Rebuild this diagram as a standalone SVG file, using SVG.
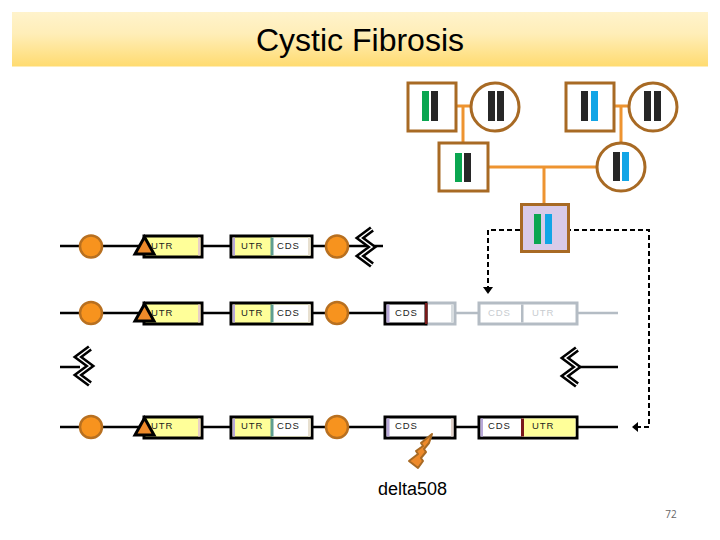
<svg xmlns="http://www.w3.org/2000/svg" width="720" height="540" viewBox="0 0 720 540">
<style>
.ln{stroke:#000;stroke-width:2.5;fill:none}
.gl{stroke:#b4bcc4;stroke-width:2.5;fill:none}
.box{stroke:#000;stroke-width:3}
.gbox{stroke:#b4bcc4;stroke-width:3;fill:#fff}
.y{fill:#ffff99}
.w{fill:#fff}
.t{font-family:"Liberation Sans",Arial,sans-serif;font-size:9.5px;letter-spacing:0.9px;fill:#222}
.tg{font-family:"Liberation Sans",Arial,sans-serif;font-size:9.5px;letter-spacing:0.9px;fill:#c8ccd0}
.dot{fill:#f7931e;stroke:#b87020;stroke-width:2.5}
.ped{fill:#fff;stroke:#a86a24;stroke-width:3}
.pl{stroke:#ee9430;stroke-width:3;fill:none}
.k{fill:#272727}.gr{fill:#0aa650}.bl{fill:#12a5e6}
.d{stroke:#000;stroke-width:2;stroke-dasharray:5 3;fill:none}
</style>
<defs>
<linearGradient id="hg" x1="0" y1="0" x2="0" y2="1"><stop offset="0" stop-color="#fff3cc"/><stop offset="0.4" stop-color="#ffeeb8"/><stop offset="1" stop-color="#ffdb70"/></linearGradient>
<g id="zz"><polyline points="7,-18 -5,-9 7,0 -5,9 7,18" fill="none" stroke="#000" stroke-width="6.5" stroke-linejoin="miter"/><polyline points="7,-18 -5,-9 7,0 -5,9 7,18" fill="none" stroke="#fff" stroke-width="1.5"/></g>
<polygon id="tri" points="144.500,-9 154,8 135,8" fill="#ee8a2a" stroke="#000" stroke-width="3"/>
</defs>
<rect width="720" height="540" fill="#fff"/>
<g id="header"><rect x="12" y="12" width="696" height="54.500" fill="url(#hg)"/><text x="360" y="50.500" text-anchor="middle" font-family="Liberation Sans,Arial,sans-serif" font-size="32" fill="#000">Cystic Fibrosis</text></g>

<g id="connectors">
<path class="pl" d="M456 106H471M463 106V143M614 106H629M621 106V143M488 167H597M544 167V204"/>
<path class="d" d="M528 230H488V288"/>
<path class="d" d="M558 230H649V427H636"/>
<polygon points="488,294 483,287 493,287" fill="#000"/>
<polygon points="632,427 638,422 638,432" fill="#000"/>
<path class="ln" d="M60 246H143M203 246H230M313 246H383"/>
<path class="ln" d="M60 313H143M203 313H230M313 313H384"/>
<path class="gl" d="M456 313H478M578 313H618"/>
<path class="ln" d="M60 367H80M575 367H618"/>
<path class="ln" d="M60 427H143M203 427H230M313 427H384M456 427H478M578 427H618"/>
</g>

<g id="pedigree">
<g id="p1"><rect class="ped" x="408" y="83" width="48" height="48"/><rect class="gr" x="422" y="91" width="7" height="30"/><rect class="k" x="431" y="91" width="7" height="30"/></g>
<g id="p2"><circle class="ped" cx="495" cy="107" r="24"/><rect class="k" x="488" y="91" width="7" height="30"/><rect class="k" x="497" y="91" width="7" height="30"/></g>
<g id="p3"><rect class="ped" x="566" y="83" width="48" height="48"/><rect class="k" x="581" y="91" width="7" height="30"/><rect class="bl" x="591" y="91" width="7" height="30"/></g>
<g id="p4"><circle class="ped" cx="653" cy="107" r="24"/><rect class="k" x="644" y="91" width="7" height="30"/><rect class="k" x="654" y="91" width="7" height="30"/></g>
<g id="p5"><rect class="ped" x="439" y="143" width="49" height="48"/><rect class="gr" x="455" y="153" width="7" height="29"/><rect class="k" x="464" y="153" width="7" height="29"/></g>
<g id="p6"><circle class="ped" cx="621" cy="167" r="24"/><rect class="k" x="613" y="152" width="7" height="29"/><rect class="bl" x="622" y="152" width="7" height="29"/></g>
<g id="p7"><rect class="ped" style="fill:#d9cbe8" x="521.500" y="204.500" width="47" height="47"/><rect class="gr" x="534" y="214" width="7" height="30"/><rect class="bl" x="545" y="214" width="7" height="30"/></g>
</g>

<g id="row1">
<rect class="box y" x="144" y="236" width="58" height="21"/><rect x="198" y="237.500" width="2.500" height="18" fill="#e8cfc8"/>
<rect class="box y" x="231" y="236" width="81" height="21"/><rect x="232.500" y="237.500" width="2.500" height="18" fill="#b8a8d8"/>
<rect x="272" y="237.500" width="38.500" height="18" fill="#fff"/><rect x="270.500" y="237.500" width="3" height="18" fill="#5f9e90"/><rect x="308" y="237.500" width="2.500" height="18" fill="#e8e0d0"/>
<text class="t" x="151" y="249">UTR</text><text class="t" x="241" y="249">UTR</text><text class="t" x="277" y="249">CDS</text>
<circle class="dot" cx="91" cy="246.500" r="11"/><circle class="dot" cx="337" cy="246.500" r="11"/>
<use href="#tri" y="246"/><use href="#zz" x="365" y="247"/>
</g>

<g id="row2">
<rect class="box y" x="144" y="303" width="58" height="21"/><rect x="198" y="304.500" width="2.500" height="18" fill="#e8cfc8"/>
<rect class="box y" x="231" y="303" width="81" height="21"/><rect x="232.500" y="304.500" width="2.500" height="18" fill="#b8a8d8"/>
<rect x="272" y="304.500" width="38.500" height="18" fill="#fff"/><rect x="270.500" y="304.500" width="3" height="18" fill="#5f9e90"/><rect x="308" y="304.500" width="2.500" height="18" fill="#e8e0d0"/>
<text class="t" x="151" y="316">UTR</text><text class="t" x="241" y="316">UTR</text><text class="t" x="277" y="316">CDS</text>
<rect class="gbox" x="426" y="303" width="29" height="21"/><rect x="451" y="304.500" width="2.500" height="18" fill="#d8dde0"/>
<rect class="box w" x="385" y="303" width="41" height="21"/><rect x="386.500" y="304.500" width="3" height="18" fill="#b8a8d8"/><rect x="425" y="303" width="2.500" height="21" fill="#7a1a1a"/>
<text class="t" x="395" y="316">CDS</text>
<rect class="gbox" x="479" y="303" width="98" height="21"/><rect x="521" y="304.500" width="2.500" height="18" fill="#b4bcc4"/>
<text class="tg" x="488" y="316">CDS</text><text class="tg" x="532" y="316">UTR</text>
<circle class="dot" cx="91" cy="313" r="11"/><circle class="dot" cx="337" cy="313" r="11"/>
<use href="#tri" y="313"/>
</g>

<g id="row3">
<use href="#zz" x="83" y="366"/><use href="#zz" x="570" y="367"/>
<rect class="box y" x="144" y="417" width="58" height="21"/><rect x="198" y="418.500" width="2.500" height="18" fill="#e8cfc8"/>
<rect class="box y" x="231" y="417" width="81" height="21"/><rect x="232.500" y="418.500" width="2.500" height="18" fill="#b8a8d8"/>
<rect x="272" y="418.500" width="38.500" height="18" fill="#fff"/><rect x="270.500" y="418.500" width="3" height="18" fill="#5f9e90"/><rect x="308" y="418.500" width="2.500" height="18" fill="#e8e0d0"/>
<text class="t" x="151" y="429">UTR</text><text class="t" x="241" y="429">UTR</text><text class="t" x="277" y="429">CDS</text>
<rect class="box w" x="385" y="417" width="70" height="21"/><rect x="386.500" y="418.500" width="3" height="18" fill="#b8a8d8"/><rect x="451" y="418.500" width="2.500" height="18" fill="#e0d0c8"/>
<text class="t" x="395" y="429">CDS</text>
<rect class="box w" x="479" y="417" width="98" height="21"/><rect x="522" y="418.500" width="53.500" height="18" fill="#ffff99"/><rect x="521" y="418.500" width="3" height="18" fill="#7a1a1a"/><rect x="480.500" y="418.500" width="2.500" height="18" fill="#b8a8d8"/>
<text class="t" x="488" y="429">CDS</text><text class="t" x="532" y="429">UTR</text>
<circle class="dot" cx="91" cy="427" r="11"/><circle class="dot" cx="337" cy="427" r="11"/>
<use href="#tri" y="427"/>
<polygon points="432,434 421,443 423,446 416,451 418,454 409,461 418,468 423,461 421,458 426,452 424,449 429,443" fill="#ee8a2a" stroke="#a86a24" stroke-width="2" stroke-linejoin="round"/>
<text x="412.500" y="495" text-anchor="middle" font-family="Liberation Sans,Arial,sans-serif" font-size="18" fill="#000">delta508</text>
</g>
<text x="671" y="518" text-anchor="middle" font-family="Open Sans,sans-serif" font-size="10" fill="#666">72</text>
</svg>
